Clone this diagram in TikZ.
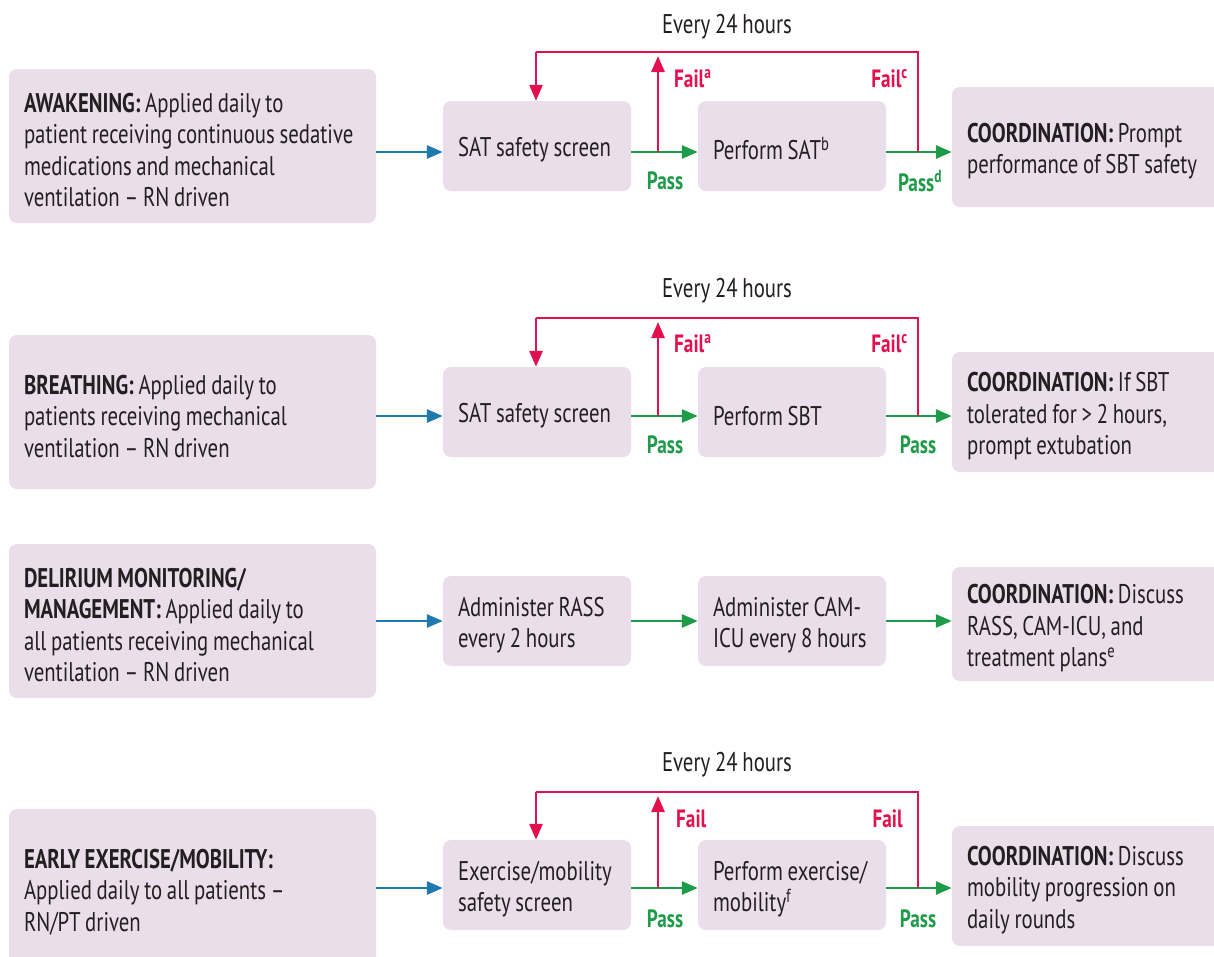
\documentclass[tikz,border=0pt]{standalone}
\usepackage{fontspec}
\setmainfont{PT Sans}[FakeStretch=0.77, WordSpace=0.85]
\usetikzlibrary{arrows.meta}
\definecolor{boxfill}{HTML}{EBDEEB}
\definecolor{ink}{HTML}{231F20}
\definecolor{flowblue}{HTML}{1F78AE}
\definecolor{passgreen}{HTML}{1E9B48}
\definecolor{failred}{HTML}{E3104F}
\tikzset{
  basebox/.style={fill=boxfill, rounded corners=8pt, inner xsep=15pt, inner ysep=0pt,
    align=flush left, text=ink, font=\fontsize{27}{31.5}\selectfont,
    execute at begin node={\spaceskip=0pt\xspaceskip=0pt\rule{0pt}{27.5pt}}},
  topicbox/.style={basebox, text width=337pt, minimum height=154pt},
  stepbox/.style={basebox, text width=158pt, minimum height=90pt},
  coordbox/.style={basebox, text width=250pt, minimum height=120pt},
  arr/.style={line width=2.8pt, -{Triangle[length=16pt,width=13pt]}},
  bluearrow/.style={arr, draw=flowblue},
  passarrow/.style={arr, draw=passgreen},
  failarrow/.style={arr, draw=failred},
  failline/.style={line width=2.8pt, draw=failred},
  passlbl/.style={text=passgreen, font=\fontsize{25}{28}\selectfont\bfseries, inner sep=0pt},
  faillbl/.style={text=failred, font=\fontsize{25}{28}\selectfont\bfseries, inner sep=0pt},
  period/.style={text=ink, font=\fontsize{27}{30}\selectfont, inner sep=0pt}
}
\begin{document}
\begin{tikzpicture}[x=1pt,y=-1pt]
\clip (0,0) rectangle (1214,956);
\fill[white] (0,0) rectangle (1214,956);

% ---------- Awakening ----------
\node[topicbox] (aw) at (192.5,146) {\textbf{AWAKENING:} Applied daily to\\patient receiving continuous sedative\\medications and mechanical\\ventilation – RN driven};
\node[stepbox] (awscreen) at (537,146) {SAT safety screen};
\node[stepbox] (awsat) at (792,146) {Perform SAT\textsuperscript{b}};
\node[coordbox] (awco) at (1092,147) {\textbf{COORDINATION:} Prompt\\performance of SBT safety};
\coordinate (awtopL) at (536,52);
\coordinate (awtopR) at (918,52);
\coordinate (awfail) at (658,152);
\coordinate (awjoin) at (918,152);
\draw[bluearrow] (aw.east |- 0,152) -- (awscreen.west |- 0,152);
\draw[passarrow] (awscreen.east |- 0,152) -- (awsat.west |- 0,152);
\draw[passarrow] (awsat.east |- 0,152) -- (awco.west |- 0,152);
\draw[failarrow] (awfail) -- (658,56);
\draw[failline] (awjoin) -- (awtopR) -- (awtopL);
\draw[failarrow] (awtopL) -- (awscreen.north -| awtopL);
\node[period] (aweach) at (727,27) {Every 24 hours};
\node[faillbl, anchor=west] (awfa) at (674,79) {Fail\textsuperscript{a}};
\node[faillbl, anchor=east] (awfc) at (908,79) {Fail\textsuperscript{c}};
\node[passlbl] (awpa) at (665,181) {Pass};
\node[passlbl] (awpd) at (920,181) {Pass\textsuperscript{d}};

% ---------- Breathing ----------
\node[topicbox] (br) at (192.5,412) {\textbf{BREATHING:} Applied daily to\\patients receiving mechanical\\ventilation – RN driven};
\node[stepbox] (brscreen) at (537,412) {SAT safety screen};
\node[stepbox] (brsbt) at (792,412) {Perform SBT};
\node[coordbox] (brco) at (1092,412) {\textbf{COORDINATION:} If SBT\\tolerated for > 2 hours,\\prompt extubation};
\coordinate (brtopL) at (536,318);
\coordinate (brtopR) at (918,318);
\coordinate (brfail) at (658,416);
\coordinate (brjoin) at (918,416);
\draw[bluearrow] (br.east |- 0,416) -- (brscreen.west |- 0,416);
\draw[passarrow] (brscreen.east |- 0,416) -- (brsbt.west |- 0,416);
\draw[passarrow] (brsbt.east |- 0,416) -- (brco.west |- 0,416);
\draw[failarrow] (brfail) -- (658,322);
\draw[failline] (brjoin) -- (brtopR) -- (brtopL);
\draw[failarrow] (brtopL) -- (brscreen.north -| brtopL);
\node[period] (breach) at (727,291) {Every 24 hours};
\node[faillbl, anchor=west] (brfa) at (674,344) {Fail\textsuperscript{a}};
\node[faillbl, anchor=east] (brfc) at (908,344) {Fail\textsuperscript{c}};
\node[passlbl] (brpa) at (665,445) {Pass};
\node[passlbl] (brpb) at (918,445) {Pass};

% ---------- Delirium ----------
\node[topicbox] (de) at (192.5,621) {\textbf{DELIRIUM MONITORING/}\\\textbf{MANAGEMENT:} Applied daily to\\all patients receiving mechanical\\ventilation – RN driven};
\node[stepbox] (derass) at (537,621) {Administer RASS\\every 2 hours};
\node[stepbox] (decam) at (792,621) {Administer CAM-\\ICU every 8 hours};
\node[coordbox, minimum height=114pt] (deco) at (1092,624) {\textbf{COORDINATION:} Discuss\\RASS, CAM-ICU, and\\treatment plans\textsuperscript{e}};
\draw[bluearrow] (de.east |- 0,621) -- (derass.west |- 0,621);
\draw[passarrow] (derass.east |- 0,621) -- (decam.west |- 0,621);
\draw[passarrow] (decam.east |- 0,621) -- (deco.west |- 0,621);

% ---------- Early exercise ----------
\node[topicbox, minimum height=158pt] (ex) at (192.5,888) {\textbf{EARLY EXERCISE/MOBILITY:}\\Applied daily to all patients –\\RN/PT driven};
\node[stepbox] (exscreen) at (537,885) {Exercise/mobility\\safety screen};
\node[stepbox] (exdo) at (792,885) {Perform exercise/\\mobility\textsuperscript{f}};
\node[coordbox] (exco) at (1092,886) {\textbf{COORDINATION:} Discuss\\mobility progression on\\daily rounds};
\coordinate (extopL) at (536,792);
\coordinate (extopR) at (918,792);
\coordinate (exfail) at (658,888);
\coordinate (exjoin) at (918,888);
\draw[bluearrow] (ex.east |- 0,888) -- (exscreen.west |- 0,888);
\draw[passarrow] (exscreen.east |- 0,888) -- (exdo.west |- 0,888);
\draw[passarrow] (exdo.east |- 0,888) -- (exco.west |- 0,888);
\draw[failarrow] (exfail) -- (658,796);
\draw[failline] (exjoin) -- (extopR) -- (extopL);
\draw[failarrow] (extopL) -- (exscreen.north -| extopL);
\node[period] (exeach) at (727,765) {Every 24 hours};
\node[faillbl, anchor=west] (exfa) at (676,819) {Fail};
\node[faillbl, anchor=east] (exfb) at (903,819) {Fail};
\node[passlbl] (expa) at (665,919) {Pass};
\node[passlbl] (expb) at (918,919) {Pass};
\end{tikzpicture}
\end{document}
